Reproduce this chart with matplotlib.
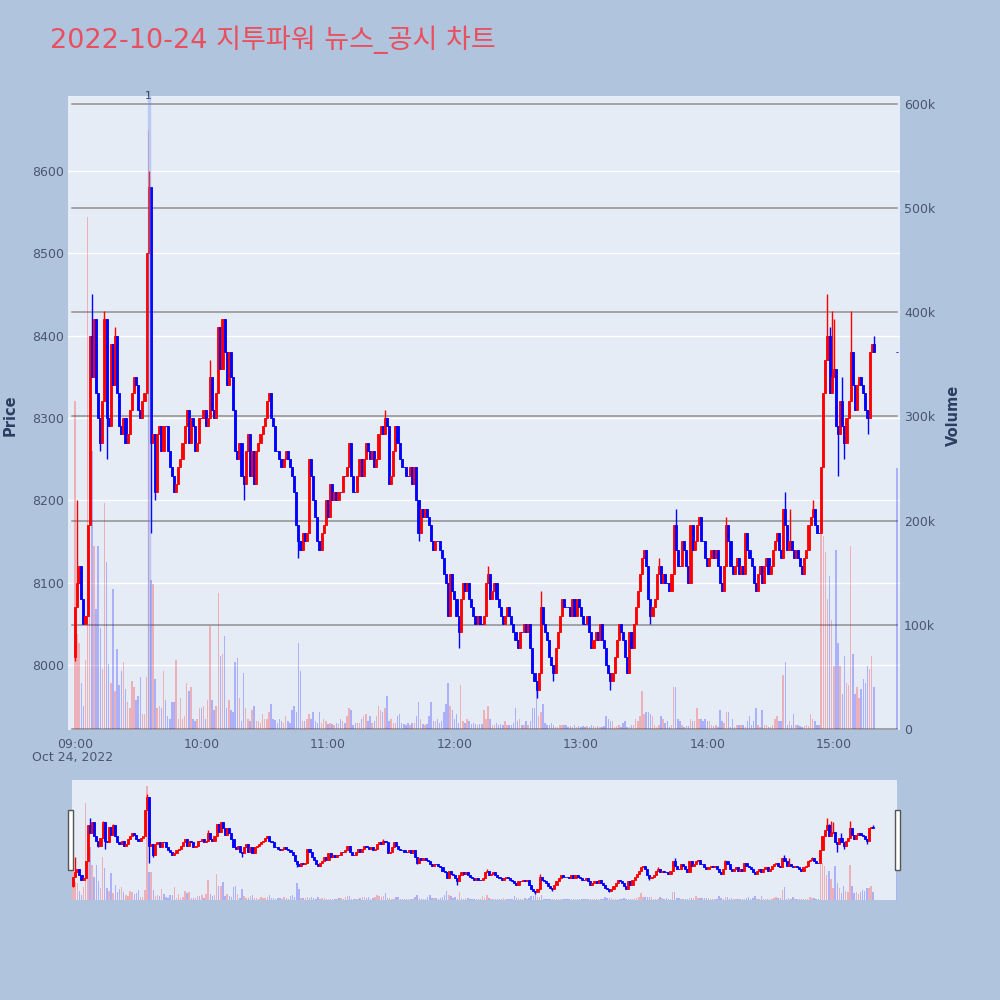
import matplotlib
matplotlib.use("Agg")
import matplotlib.pyplot as plt
from matplotlib.patches import Rectangle
from matplotlib.transforms import blended_transform_factory

# ---------------- data (1-minute candles from 09:00) ----------------
title = "2022-10-24 지투파워 뉴스_공시 차트"
first_open = 8010
close = [
    8070, 8100, 8120, 8080, 8050, 8060, 8170, 8400, 8350, 8420,
    8330, 8300, 8270, 8320, 8420, 8300, 8290, 8390, 8340, 8400,
    8330, 8290, 8280, 8300, 8270, 8280, 8310, 8330, 8350, 8340,
    8310, 8300, 8320, 8330, 8500, 8580, 8270, 8280, 8210, 8280,
    8290, 8260, 8290, 8290, 8260, 8240, 8230, 8210, 8220, 8240,
    8250, 8270, 8290, 8310, 8270, 8300, 8290, 8260, 8270, 8300,
    8300, 8310, 8290, 8300, 8350, 8310, 8300, 8330, 8410, 8360,
    8420, 8380, 8340, 8380, 8350, 8310, 8260, 8250, 8270, 8230,
    8220, 8260, 8280, 8230, 8260, 8220, 8260, 8270, 8280, 8290,
    8300, 8320, 8330, 8300, 8290, 8260, 8260, 8250, 8240, 8250,
    8260, 8250, 8240, 8230, 8210, 8170, 8150, 8140, 8160, 8150,
    8160, 8250, 8230, 8200, 8180, 8150, 8140, 8160, 8170, 8200,
    8180, 8220, 8200, 8210, 8200, 8210, 8210, 8230, 8230, 8240,
    8270, 8230, 8210, 8210, 8230, 8250, 8230, 8250, 8270, 8260,
    8250, 8260, 8240, 8250, 8280, 8290, 8280, 8300, 8290, 8220,
    8230, 8260, 8290, 8270, 8250, 8240, 8240, 8230, 8230, 8240,
    8220, 8240, 8200, 8160, 8190, 8180, 8190, 8180, 8170, 8150,
    8140, 8150, 8150, 8140, 8130, 8110, 8100, 8060, 8110, 8090,
    8080, 8060, 8040, 8080, 8100, 8090, 8100, 8080, 8070, 8060,
    8050, 8060, 8050, 8050, 8060, 8100, 8110, 8080, 8090, 8100,
    8080, 8070, 8060, 8050, 8060, 8070, 8060, 8050, 8040, 8030,
    8020, 8040, 8040, 8050, 8040, 8050, 8020, 7990, 7980, 7970,
    7990, 8070, 8050, 8040, 8030, 8010, 8000, 7990, 8020, 8040,
    8060, 8080, 8070, 8070, 8070, 8060, 8080, 8060, 8080, 8070,
    8060, 8050, 8050, 8060, 8040, 8020, 8030, 8040, 8030, 8050,
    8030, 8020, 8000, 7990, 7980, 7990, 8010, 8030, 8050, 8040,
    8030, 8010, 7990, 8040, 8020, 8050, 8070, 8090, 8110, 8130,
    8140, 8120, 8080, 8060, 8070, 8080, 8110, 8120, 8100, 8110,
    8100, 8100, 8090, 8110, 8170, 8140, 8120, 8120, 8150, 8140,
    8120, 8100, 8170, 8140, 8150, 8170, 8180, 8150, 8150, 8130,
    8120, 8130, 8140, 8130, 8140, 8120, 8100, 8090, 8120, 8170,
    8150, 8120, 8110, 8120, 8130, 8110, 8120, 8110, 8160, 8140,
    8130, 8120, 8100, 8090, 8110, 8120, 8100, 8120, 8130, 8110,
    8120, 8140, 8150, 8160, 8140, 8130, 8190, 8170, 8140, 8150,
    8140, 8130, 8140, 8130, 8120, 8110, 8130, 8140, 8170, 8180,
    8190, 8170, 8160, 8160, 8240, 8330, 8370, 8400, 8330, 8350,
    8360, 8290, 8280, 8320, 8290, 8270, 8300, 8320, 8380, 8340,
    8310, 8340, 8350, 8340, 8330, 8310, 8300, 8380, 8390, 8380,
]
wick_high = {1: 8200, 8: 8450, 14: 8430, 19: 8410, 35: 8600, 36: 8530, 64: 8370,
             147: 8310, 196: 8120, 221: 8090, 277: 8130, 285: 8190, 309: 8180,
             337: 8210, 339: 8190, 350: 8200, 357: 8450, 358: 8410, 359: 8430,
             360: 8420, 364: 8350, 368: 8430, 379: 8400}
wick_low = {0: 8005, 12: 8260, 15: 8250, 36: 8160, 38: 8200, 80: 8200, 106: 8130,
            163: 8150, 182: 8020, 219: 7960, 227: 7980, 254: 7970, 273: 8050,
            362: 8230, 365: 8250, 376: 8280}
volume_k = [
    315, 91, 83, 44, 22, 66, 492, 315, 267, 176,
    115, 176, 97, 58, 217, 160, 62, 44, 134, 36,
    77, 42, 56, 64, 38, 26, 20, 46, 40, 28,
    32, 50, 14, 14, 50, 575, 143, 139, 48, 20,
    22, 20, 56, 28, 12, 10, 26, 26, 66, 10,
    30, 10, 12, 44, 36, 40, 10, 8, 10, 20,
    20, 22, 10, 28, 99, 28, 18, 22, 131, 70,
    72, 89, 20, 28, 18, 16, 64, 68, 30, 8,
    54, 20, 10, 8, 18, 22, 8, 8, 6, 14,
    10, 10, 16, 24, 10, 9, 6, 10, 8, 6,
    12, 8, 6, 18, 22, 16, 83, 56, 8, 8,
    10, 14, 10, 16, 8, 6, 16, 6, 10, 8,
    5, 6, 5, 4, 6, 5, 10, 8, 6, 12,
    20, 18, 4, 6, 6, 6, 10, 12, 14, 8,
    12, 6, 8, 12, 22, 18, 16, 20, 32, 8,
    10, 6, 6, 12, 14, 6, 5, 4, 6, 4,
    6, 6, 12, 26, 10, 5, 4, 5, 12, 26,
    8, 8, 10, 6, 8, 16, 24, 44, 22, 18,
    10, 14, 6, 42, 8, 6, 10, 8, 5, 6,
    5, 4, 5, 5, 18, 10, 22, 10, 4, 4,
    6, 4, 5, 4, 8, 4, 4, 4, 6, 20,
    8, 10, 4, 4, 8, 4, 8, 20, 20, 44,
    12, 16, 24, 6, 4, 4, 6, 4, 2, 2,
    4, 4, 4, 4, 2, 3, 2, 4, 2, 3,
    2, 3, 2, 3, 2, 4, 3, 2, 3, 2,
    2, 3, 12, 10, 8, 8, 2, 3, 4, 2,
    6, 8, 2, 2, 4, 4, 10, 8, 12, 36,
    14, 16, 16, 14, 12, 4, 2, 4, 12, 10,
    6, 8, 2, 4, 40, 40, 10, 8, 4, 2,
    3, 3, 10, 8, 8, 20, 10, 10, 8, 10,
    8, 8, 4, 3, 4, 2, 18, 8, 6, 16,
    16, 2, 10, 2, 4, 4, 4, 4, 2, 8,
    12, 4, 8, 20, 4, 2, 18, 4, 4, 2,
    2, 4, 10, 12, 8, 8, 52, 64, 4, 8,
    4, 14, 4, 4, 3, 2, 3, 4, 3, 14,
    10, 8, 4, 4, 200, 185, 170, 125, 147, 105,
    60, 172, 83, 60, 34, 70, 44, 42, 176, 72,
    34, 40, 30, 38, 48, 44, 60, 58, 70, 40,
]
# 15:30 closing auction
auction_minute = 390
auction_price = 8380
auction_volume_k = 251
# news / disclosure markers
news_minutes = [35]
news_labels = ["1"]

xtick_minutes = [0, 60, 120, 180, 240, 300, 360]
xtick_labels = ["09:00", "10:00", "11:00", "12:00", "13:00", "14:00", "15:00"]
price_ticks = [8000, 8100, 8200, 8300, 8400, 8500, 8600]
vol_ticks = [0, 100, 200, 300, 400, 500, 600]
vol_tick_labels = ["0", "100k", "200k", "300k", "400k", "500k", "600k"]

# ---------------- build OHLC ----------------
n = min(len(close), len(volume_k))
minutes = list(range(n)) + [auction_minute]
closes = close[:n] + [auction_price]
opens = [first_open] + close[:n - 1] + [auction_price]
vols = volume_k[:n] + [auction_volume_k]
highs, lows, colors = [], [], []
for i, (o, c) in enumerate(zip(opens, closes)):
    highs.append(max(o, c, wick_high.get(i, 0)))
    lows.append(min(o, c, wick_low.get(i, 10 ** 9)))
    colors.append("#FF0000" if c > o else "#0000FF")

BG = "#B0C4DE"
PLOT_BG = "#E5ECF6"
TICK_C = "#4a5670"
TITLE_C = "#2a3f5f"
plt.rcParams["font.family"] = ["DejaVu Sans", "Noto Sans CJK KR"]

fig = plt.figure(figsize=(10, 10), dpi=100, facecolor=BG)

PRICE_LIM = (7921, 8691)
VOL_LIM = (-1, 607.7)


def draw_candles(ax):
    bodies_b = [min(o, c) for o, c in zip(opens, closes)]
    bodies_h = [abs(c - o) for o, c in zip(opens, closes)]
    ax.vlines(minutes, lows, highs, colors=colors, linewidth=1.0, zorder=3)
    ax.bar(minutes, bodies_h, bottom=bodies_b, width=1.0, color=colors,
           edgecolor=colors, linewidth=0.6, zorder=4)


def draw_volume(ax):
    ax.bar(minutes, vols, width=0.7, color=colors, alpha=0.25, linewidth=0, zorder=2)


def clean(ax):
    for s in ax.spines.values():
        s.set_visible(False)


# ---------------- main chart ----------------
pos = [0.068, 0.27, 0.832, 0.634]
XLIM = (-3.3, 391.4)

ax_bg = fig.add_axes(pos)
ax_bg.set_facecolor(PLOT_BG)
ax_bg.set_xlim(XLIM)
ax_bg.set_ylim(PRICE_LIM)
for p in price_ticks:
    ax_bg.axhline(p, color="white", linewidth=1.0, zorder=0)
ax_bg.set_xticks([])
ax_bg.set_yticks([])
clean(ax_bg)

ax_v = fig.add_axes(pos)
ax_v.patch.set_visible(False)
ax_v.set_xlim(XLIM)
ax_v.set_ylim(VOL_LIM)
for v in vol_ticks:
    ax_v.axhline(v, xmin=0.005, xmax=0.996, color="#8f8f8f", linewidth=1.1, zorder=1)
draw_volume(ax_v)
ax_v.yaxis.tick_right()
ax_v.set_yticks(vol_ticks)
ax_v.set_yticklabels(vol_tick_labels)
ax_v.set_xticks([])
ax_v.tick_params(axis="y", length=0, pad=3, labelsize=9, labelcolor=TICK_C)
clean(ax_v)

ax_p = fig.add_axes(pos)
ax_p.patch.set_visible(False)
ax_p.set_xlim(XLIM)
ax_p.set_ylim(PRICE_LIM)
draw_candles(ax_p)
for nm, lab in zip(news_minutes, news_labels):
    ax_p.axvline(nm, color="#6f8cf0", alpha=0.35, linewidth=2.5, zorder=6)
    ax_p.text(nm, 1.0, lab, transform=blended_transform_factory(ax_p.transData, ax_p.transAxes),
              ha="center", va="center", fontsize=8, color=TITLE_C)
ax_p.set_yticks(price_ticks)
ax_p.tick_params(axis="y", length=0, pad=3, labelsize=9, labelcolor=TICK_C)
ax_p.set_xticks(xtick_minutes)
ax_p.set_xticklabels(xtick_labels)
ax_p.tick_params(axis="x", length=0, pad=6, labelsize=9, labelcolor=TICK_C)
ax_p.set_xlim(XLIM)
clean(ax_p)

fig.text(0.073, 0.242, "Oct 24, 2022", ha="center", va="center", fontsize=9, color=TICK_C)
fig.text(0.05, 0.96, title, ha="left", va="center", fontsize=19.5, color="#E8505F")
fig.text(0.010, 0.585, "Price", rotation=90, ha="center", va="center", fontsize=10.5,
         fontweight="bold", color=TITLE_C)
fig.text(0.953, 0.585, "Volume", rotation=90, ha="center", va="center", fontsize=10.5,
         fontweight="bold", color=TITLE_C)

# ---------------- range slider ----------------
spos = [0.072, 0.10, 0.825, 0.12]
SXLIM = (-0.5, 390.3)
ax_sv = fig.add_axes(spos)
ax_sv.set_facecolor(PLOT_BG)
ax_sv.set_xlim(SXLIM)
ax_sv.set_ylim(VOL_LIM)
draw_volume(ax_sv)
ax_sv.set_xticks([])
ax_sv.set_yticks([])
clean(ax_sv)

ax_sp = fig.add_axes(spos)
ax_sp.patch.set_visible(False)
ax_sp.set_xlim(SXLIM)
ax_sp.set_ylim(PRICE_LIM)
draw_candles(ax_sp)
ax_sp.set_xticks([])
ax_sp.set_yticks([])
clean(ax_sp)

for hx in (0.068, 0.895):
    fig.patches.append(Rectangle((hx, 0.130), 0.005, 0.060, transform=fig.transFigure,
                                 facecolor="white", edgecolor="#555555", linewidth=1.0))

fig.savefig("out.png", dpi=100, facecolor=BG)
